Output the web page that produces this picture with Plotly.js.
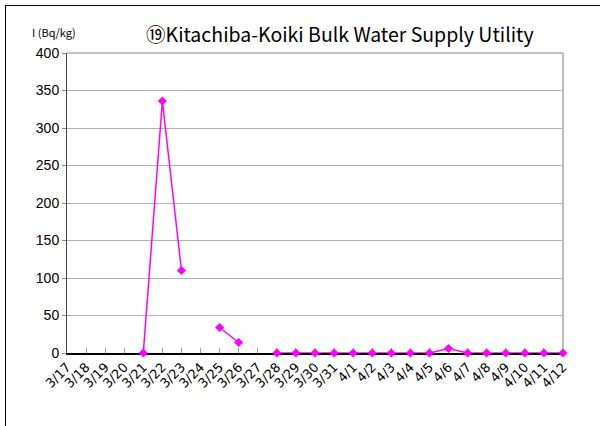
<!DOCTYPE html>
<html>
<head>
<meta charset="utf-8">
<script src="https://cdn.plot.ly/plotly-3.0.1.min.js"></script>
<style>
html,body{margin:0;padding:0;background:#fff;}
#frame{position:absolute;left:5px;top:5px;width:700px;height:500px;border-left:1.5px solid #000;border-top:1.5px solid #000;pointer-events:none;}
#chart{position:absolute;left:0;top:0;width:600px;height:426px;}
</style>
</head>
<body>
<div id="chart"></div>
<div id="frame"></div>
<script>
const dates = ["3/17","3/18","3/19","3/20","3/21","3/22","3/23","3/24","3/25","3/26","3/27","3/28","3/29","3/30","3/31","4/1","4/2","4/3","4/4","4/5","4/6","4/7","4/8","4/9","4/10","4/11","4/12"];
const iodine = [null,null,null,null,0,336,110,null,34,14,null,0,0,0,0,0,0,0,0,0,6,0,0,0,0,0,0];
const yTicks = [0,50,100,150,200,250,300,350,400];

const trace = {
  x: dates, y: iodine, type: 'scatter', mode: 'lines+markers',
  connectgaps: false, cliponaxis: false,
  line: {color: '#ff00ff', width: 1.5},
  marker: {symbol: 'diamond', size: 7, color: '#ff00ff'}
};

const layout = {
  width: 600, height: 426, autosize: false,
  margin: {l: 67, r: 37, t: 53, b: 73},
  paper_bgcolor: '#fff', plot_bgcolor: '#fff',
  showlegend: false,
  font: {family: 'Liberation Sans, Arial, sans-serif', color: '#000'},
  title: {text: '⑲Kitachiba-Koiki Bulk Water Supply Utility', font: {family: 'Noto Sans CJK JP', size: 19.5, color: '#000'},
          xref: 'paper', x: 0.55, xanchor: 'center', yref: 'container', y: 0.918, yanchor: 'middle'},
  xaxis: {type: 'category', range: [0, 26], tickangle: -45, ticks: 'inside', ticklen: 5, tickcolor: '#999',
          showgrid: false, showline: true, linecolor: '#000', linewidth: 1.5, layer: 'below traces',
          tickfont: {size: 13, family: 'DejaVu Sans, sans-serif'}, zeroline: false},
  yaxis: {range: [0, 400], tickvals: yTicks, ticks: 'outside', ticklen: 4, tickcolor: '#888',
          showgrid: true, gridcolor: '#b4b4b4', gridwidth: 1, showline: true, linecolor: '#444', linewidth: 1,
          zeroline: false, tickfont: {size: 14}, layer: 'below traces'},
  shapes: [
    {type: 'line', xref: 'paper', yref: 'paper', x0: 1, x1: 1, y0: 0, y1: 1, line: {color: '#aaa', width: 1.5}, layer: 'below'},
    {type: 'line', xref: 'paper', yref: 'paper', x0: 0, x1: 1, y0: 1, y1: 1, line: {color: '#888', width: 1}, layer: 'below'}
  ],
  annotations: [
    {text: 'I (Bq/kg)', xref: 'paper', yref: 'paper', x: -0.075, y: 1.07, xanchor: 'left', yanchor: 'middle',
     showarrow: false, font: {size: 11, family: 'Noto Sans CJK JP', color: '#000'}}
  ]
};

Plotly.newPlot('chart', [trace], layout, {displayModeBar: false, staticPlot: true});
</script>
</body>
</html>
